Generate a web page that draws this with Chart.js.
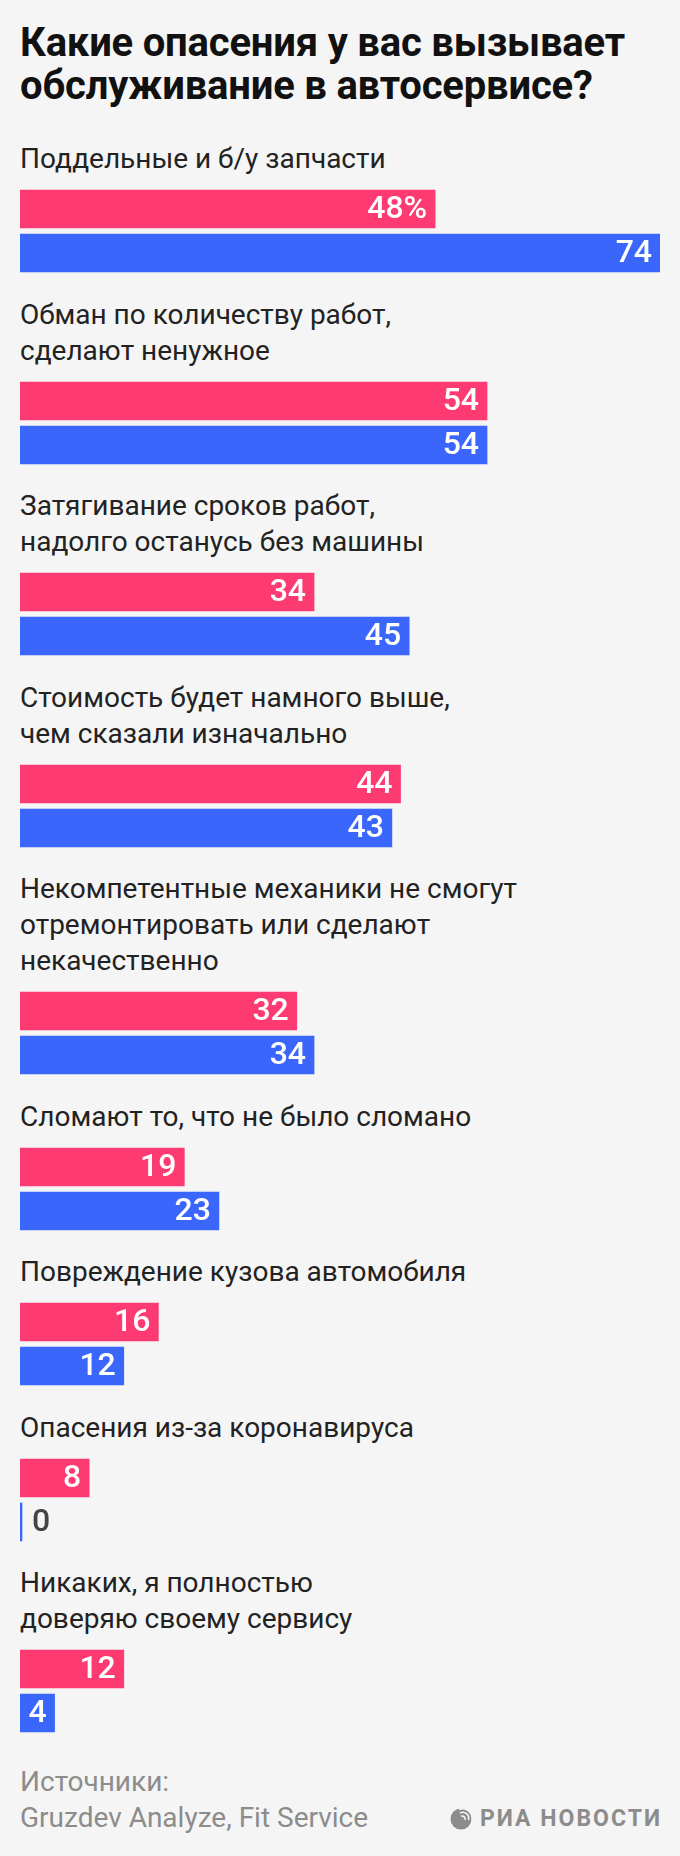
<!DOCTYPE html>
<html lang="ru">
<head>
<meta charset="utf-8">
<script src="https://cdn.jsdelivr.net/npm/chart.js@4.4.0/dist/chart.umd.min.js"></script>
<style>
  html, body { margin: 0; padding: 0; }
  body {
    width: 680px; height: 1856px; overflow: hidden;
    background: #f5f5f5; font-family: Roboto, "Noto Sans", sans-serif;
  }
  #wrap { padding: 21px 20px 0 20px; }
  h1 {
    margin: 0; font-size: 40px; line-height: 43px; font-weight: 700; color: #111;
    letter-spacing: -0.2px;
  }
  .label {
    font-size: 28px; line-height: 36px; color: #222; font-weight: 400;
  }
  .bars { position: relative; width: 640px; height: 88px; margin-top: 10px; margin-bottom: 21.5px; }
  #first { margin-top: 34px; }
  .foot {
    margin-top: 29px; position: relative; font-size: 28px; line-height: 36px; color: #8c8c8c;
  }
  .logo {
    position: absolute; right: -2px; bottom: 4px; display: flex; align-items: center;
    color: #8c8c8c; font-weight: 700; font-size: 23px; line-height: 26px; letter-spacing: 2px;
  }
  .logo svg { margin-right: 6px; }
</style>
</head>
<body>
<div id="wrap">
  <h1>Какие опасения у вас вызывает<br>обслуживание в автосервисе?</h1>
  <div id="blocks"></div>
  <div class="foot">
    Источники:<br>Gruzdev Analyze, Fit Service
    <div class="logo">
      <svg width="24" height="24" viewBox="0 0 24 24">
        <circle cx="11" cy="12" r="10.5" fill="#8c8c8c"/>
        <path d="M9 2.5 A9.5 9.5 0 0 1 22 13" stroke="#f5f5f5" stroke-width="1.6" fill="none"/>
        <path d="M10 6 A6 6 0 0 1 18.5 13" stroke="#f5f5f5" stroke-width="1.6" fill="none"/>
        <path d="M11 9.3 A3 3 0 0 1 15 13" stroke="#f5f5f5" stroke-width="1.6" fill="none"/>
      </svg>
      РИА НОВОСТИ
    </div>
  </div>
</div>
<script>
const categories = [
  ["Поддельные и б/у запчасти"],
  ["Обман по количеству работ,", "сделают ненужное"],
  ["Затягивание сроков работ,", "надолго останусь без машины"],
  ["Стоимость будет намного выше,", "чем сказали изначально"],
  ["Некомпетентные механики не смогут", "отремонтировать или сделают", "некачественно"],
  ["Сломают то, что не было сломано"],
  ["Повреждение кузова автомобиля"],
  ["Опасения из-за коронавируса"],
  ["Никаких, я полностью", "доверяю своему сервису"]
];
const pinkValues = [48, 54, 34, 44, 32, 19, 16, 8, 12];
const blueValues = [74, 54, 45, 43, 34, 23, 12, 0, 4];
const xMax = 74;

const pink = "#fd3a72";
const blue = "#3b66fb";

// подписи значений внутри или справа от полосы
const valueLabels = {
  id: "valueLabels",
  afterDatasetsDraw(chart) {
    const ctx = chart.ctx;
    const meta = chart.getDatasetMeta(0);
    const ds = chart.data.datasets[0];
    ctx.save();
    ctx.font = "500 32px Roboto";
    ctx.textBaseline = "middle";
    meta.data.forEach((bar, i) => {
      const txt = ds.data[i] + (chart.options.firstRow && i === 0 ? "%" : "");
      const w = ctx.measureText(txt).width;
      const barW = bar.x - bar.base;
      if (barW > w + 12) {
        ctx.fillStyle = "#fff";
        ctx.textAlign = "right";
        ctx.fillText(txt, bar.x - 8, bar.y + 1);
      } else {
        ctx.fillStyle = "#444";
        ctx.textAlign = "left";
        ctx.fillText(txt, bar.x + 10, bar.y + 1);
      }
    });
    ctx.restore();
  }
};

const holder = document.getElementById("blocks");
categories.forEach((lines, i) => {
  const lab = document.createElement("div");
  lab.className = "label";
  if (i === 0) lab.id = "first";
  lab.innerHTML = lines.join("<br>");
  holder.appendChild(lab);

  const box = document.createElement("div");
  box.className = "bars";
  if (i === categories.length - 1) box.style.marginBottom = "0";
  const cv = document.createElement("canvas");
  box.appendChild(cv);
  holder.appendChild(box);

  new Chart(cv, {
    type: "bar",
    data: {
      labels: ["a", "b"],
      datasets: [{
        data: [pinkValues[i], blueValues[i]],
        backgroundColor: [pink, blue],
        barThickness: 38,
        minBarLength: 2,
        borderWidth: 0
      }]
    },
    options: {
      firstRow: i === 0,
      indexAxis: "y",
      responsive: true,
      maintainAspectRatio: false,
      animation: false,
      layout: { padding: 0 },
      plugins: { legend: { display: false }, tooltip: { enabled: false } },
      scales: {
        x: { display: false, min: 0, max: xMax },
        y: { display: false }
      }
    },
    plugins: [valueLabels]
  });
});
</script>
</body>
</html>
